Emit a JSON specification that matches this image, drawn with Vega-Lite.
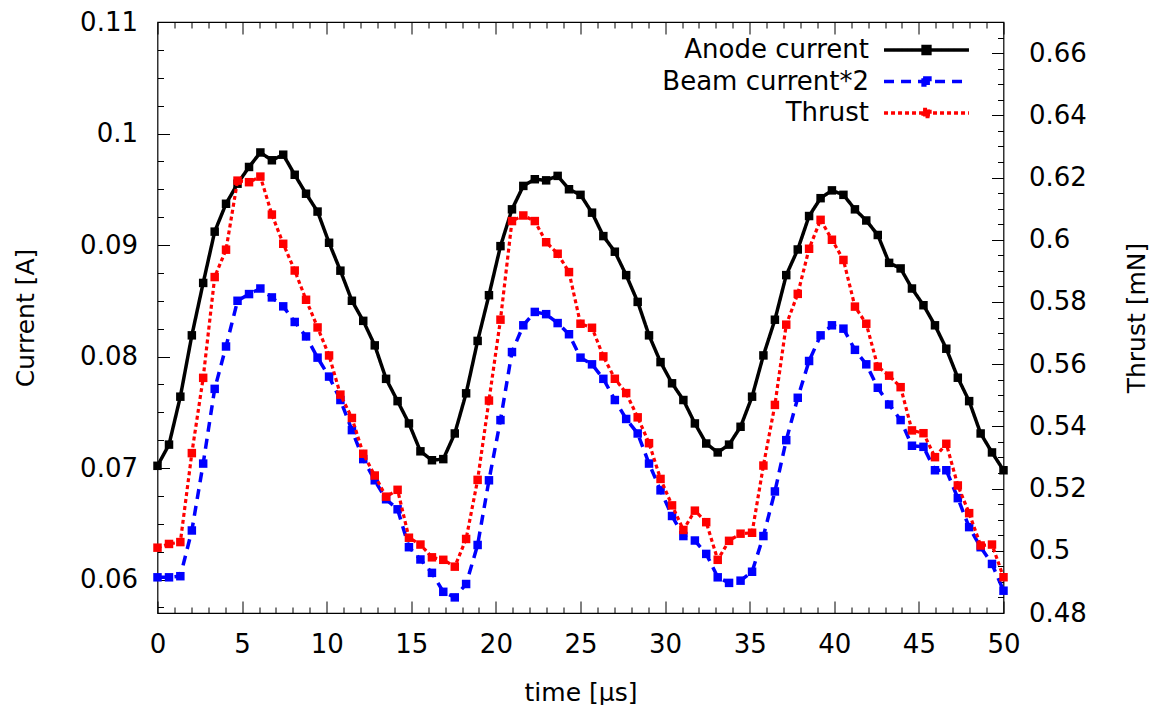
{
  "$schema": "https://vega.github.io/schema/vega-lite/v6.json",
  "width": 846,
  "height": 591,
  "padding": {"left": 12.5, "top": 9, "right": 0, "bottom": 0},
  "background": "white",
  "config": {
    "view": {"stroke": "#000000", "strokeWidth": 1.2},
    "axis": {
      "domain": false,
      "grid": false,
      "tickColor": "#000000",
      "tickWidth": 1,
      "labelColor": "#000000",
      "titleColor": "#000000",
      "labelFont": "DejaVu Sans",
      "titleFont": "DejaVu Sans",
      "labelFontSize": 26,
      "titleFontSize": 25,
      "titleFontWeight": "normal",
      "labelOverlap": false,
      "labelFlush": false
    },
    "legend": {"labelFont": "DejaVu Sans", "labelFontSize": 26, "labelColor": "#000000"}
  },
  "data": {
    "values": [
      {"t":0,"s":"Anode current","v":0.0702},{"t":0.68,"s":"Anode current","v":0.0721},{"t":1.35,"s":"Anode current","v":0.0764},{"t":2.03,"s":"Anode current","v":0.0819},{"t":2.70,"s":"Anode current","v":0.0866},{"t":3.38,"s":"Anode current","v":0.0912},{"t":4.05,"s":"Anode current","v":0.0937},{"t":4.73,"s":"Anode current","v":0.0955},{"t":5.41,"s":"Anode current","v":0.0970},{"t":6.08,"s":"Anode current","v":0.0983},{"t":6.76,"s":"Anode current","v":0.0976},{"t":7.43,"s":"Anode current","v":0.0981},{"t":8.11,"s":"Anode current","v":0.0963},{"t":8.78,"s":"Anode current","v":0.0946},{"t":9.46,"s":"Anode current","v":0.0930},{"t":10.14,"s":"Anode current","v":0.0902},{"t":10.81,"s":"Anode current","v":0.0877},{"t":11.49,"s":"Anode current","v":0.0850},{"t":12.16,"s":"Anode current","v":0.0832},{"t":12.84,"s":"Anode current","v":0.0810},{"t":13.51,"s":"Anode current","v":0.0780},{"t":14.19,"s":"Anode current","v":0.0760},{"t":14.86,"s":"Anode current","v":0.0740},{"t":15.54,"s":"Anode current","v":0.0715},{"t":16.22,"s":"Anode current","v":0.0707},{"t":16.89,"s":"Anode current","v":0.0708},{"t":17.57,"s":"Anode current","v":0.0731},{"t":18.24,"s":"Anode current","v":0.0767},{"t":18.92,"s":"Anode current","v":0.0814},{"t":19.59,"s":"Anode current","v":0.0855},{"t":20.27,"s":"Anode current","v":0.0899},{"t":20.95,"s":"Anode current","v":0.0932},{"t":21.62,"s":"Anode current","v":0.0953},{"t":22.30,"s":"Anode current","v":0.0959},{"t":22.97,"s":"Anode current","v":0.0958},{"t":23.65,"s":"Anode current","v":0.0962},{"t":24.32,"s":"Anode current","v":0.0950},{"t":25.00,"s":"Anode current","v":0.0945},{"t":25.68,"s":"Anode current","v":0.0929},{"t":26.35,"s":"Anode current","v":0.0908},{"t":27.03,"s":"Anode current","v":0.0894},{"t":27.70,"s":"Anode current","v":0.0873},{"t":28.38,"s":"Anode current","v":0.0849},{"t":29.05,"s":"Anode current","v":0.0819},{"t":29.73,"s":"Anode current","v":0.0795},{"t":30.41,"s":"Anode current","v":0.0776},{"t":31.08,"s":"Anode current","v":0.0761},{"t":31.76,"s":"Anode current","v":0.0740},{"t":32.43,"s":"Anode current","v":0.0722},{"t":33.11,"s":"Anode current","v":0.0714},{"t":33.78,"s":"Anode current","v":0.0721},{"t":34.46,"s":"Anode current","v":0.0737},{"t":35.14,"s":"Anode current","v":0.0764},{"t":35.81,"s":"Anode current","v":0.0801},{"t":36.49,"s":"Anode current","v":0.0833},{"t":37.16,"s":"Anode current","v":0.0873},{"t":37.84,"s":"Anode current","v":0.0896},{"t":38.51,"s":"Anode current","v":0.0926},{"t":39.19,"s":"Anode current","v":0.0942},{"t":39.86,"s":"Anode current","v":0.0949},{"t":40.54,"s":"Anode current","v":0.0945},{"t":41.22,"s":"Anode current","v":0.0932},{"t":41.89,"s":"Anode current","v":0.0922},{"t":42.57,"s":"Anode current","v":0.0909},{"t":43.24,"s":"Anode current","v":0.0884},{"t":43.92,"s":"Anode current","v":0.0879},{"t":44.59,"s":"Anode current","v":0.0861},{"t":45.27,"s":"Anode current","v":0.0846},{"t":45.95,"s":"Anode current","v":0.0828},{"t":46.62,"s":"Anode current","v":0.0807},{"t":47.30,"s":"Anode current","v":0.0781},{"t":47.97,"s":"Anode current","v":0.0760},{"t":48.65,"s":"Anode current","v":0.0731},{"t":49.32,"s":"Anode current","v":0.0714},{"t":50,"s":"Anode current","v":0.0698},
      {"t":0,"s":"Beam current*2","v":0.0602},{"t":0.68,"s":"Beam current*2","v":0.0602},{"t":1.35,"s":"Beam current*2","v":0.0603},{"t":2.03,"s":"Beam current*2","v":0.0644},{"t":2.70,"s":"Beam current*2","v":0.0704},{"t":3.38,"s":"Beam current*2","v":0.0771},{"t":4.05,"s":"Beam current*2","v":0.0809},{"t":4.73,"s":"Beam current*2","v":0.0850},{"t":5.41,"s":"Beam current*2","v":0.0856},{"t":6.08,"s":"Beam current*2","v":0.0861},{"t":6.76,"s":"Beam current*2","v":0.0853},{"t":7.43,"s":"Beam current*2","v":0.0845},{"t":8.11,"s":"Beam current*2","v":0.0831},{"t":8.78,"s":"Beam current*2","v":0.0818},{"t":9.46,"s":"Beam current*2","v":0.0799},{"t":10.14,"s":"Beam current*2","v":0.0782},{"t":10.81,"s":"Beam current*2","v":0.0761},{"t":11.49,"s":"Beam current*2","v":0.0734},{"t":12.16,"s":"Beam current*2","v":0.0708},{"t":12.84,"s":"Beam current*2","v":0.0689},{"t":13.51,"s":"Beam current*2","v":0.0672},{"t":14.19,"s":"Beam current*2","v":0.0663},{"t":14.86,"s":"Beam current*2","v":0.0629},{"t":15.54,"s":"Beam current*2","v":0.0618},{"t":16.22,"s":"Beam current*2","v":0.0606},{"t":16.89,"s":"Beam current*2","v":0.0589},{"t":17.57,"s":"Beam current*2","v":0.0584},{"t":18.24,"s":"Beam current*2","v":0.0596},{"t":18.92,"s":"Beam current*2","v":0.0631},{"t":19.59,"s":"Beam current*2","v":0.0689},{"t":20.27,"s":"Beam current*2","v":0.0743},{"t":20.95,"s":"Beam current*2","v":0.0804},{"t":21.62,"s":"Beam current*2","v":0.0828},{"t":22.30,"s":"Beam current*2","v":0.0840},{"t":22.97,"s":"Beam current*2","v":0.0838},{"t":23.65,"s":"Beam current*2","v":0.0830},{"t":24.32,"s":"Beam current*2","v":0.0820},{"t":25.00,"s":"Beam current*2","v":0.0799},{"t":25.68,"s":"Beam current*2","v":0.0793},{"t":26.35,"s":"Beam current*2","v":0.0780},{"t":27.03,"s":"Beam current*2","v":0.0761},{"t":27.70,"s":"Beam current*2","v":0.0744},{"t":28.38,"s":"Beam current*2","v":0.0731},{"t":29.05,"s":"Beam current*2","v":0.0704},{"t":29.73,"s":"Beam current*2","v":0.0680},{"t":30.41,"s":"Beam current*2","v":0.0657},{"t":31.08,"s":"Beam current*2","v":0.0639},{"t":31.76,"s":"Beam current*2","v":0.0635},{"t":32.43,"s":"Beam current*2","v":0.0623},{"t":33.11,"s":"Beam current*2","v":0.0602},{"t":33.78,"s":"Beam current*2","v":0.0597},{"t":34.46,"s":"Beam current*2","v":0.0599},{"t":35.14,"s":"Beam current*2","v":0.0607},{"t":35.81,"s":"Beam current*2","v":0.0639},{"t":36.49,"s":"Beam current*2","v":0.0679},{"t":37.16,"s":"Beam current*2","v":0.0725},{"t":37.84,"s":"Beam current*2","v":0.0763},{"t":38.51,"s":"Beam current*2","v":0.0796},{"t":39.19,"s":"Beam current*2","v":0.0819},{"t":39.86,"s":"Beam current*2","v":0.0828},{"t":40.54,"s":"Beam current*2","v":0.0825},{"t":41.22,"s":"Beam current*2","v":0.0806},{"t":41.89,"s":"Beam current*2","v":0.0793},{"t":42.57,"s":"Beam current*2","v":0.0772},{"t":43.24,"s":"Beam current*2","v":0.0757},{"t":43.92,"s":"Beam current*2","v":0.0743},{"t":44.59,"s":"Beam current*2","v":0.0720},{"t":45.27,"s":"Beam current*2","v":0.0719},{"t":45.95,"s":"Beam current*2","v":0.0698},{"t":46.62,"s":"Beam current*2","v":0.0698},{"t":47.30,"s":"Beam current*2","v":0.0673},{"t":47.97,"s":"Beam current*2","v":0.0647},{"t":48.65,"s":"Beam current*2","v":0.0629},{"t":49.32,"s":"Beam current*2","v":0.0614},{"t":50,"s":"Beam current*2","v":0.0590},
      {"t":0,"s":"Thrust","v":0.5010},{"t":0.68,"s":"Thrust","v":0.5022},{"t":1.35,"s":"Thrust","v":0.5028},{"t":2.03,"s":"Thrust","v":0.5314},{"t":2.70,"s":"Thrust","v":0.5556},{"t":3.38,"s":"Thrust","v":0.5880},{"t":4.05,"s":"Thrust","v":0.5968},{"t":4.73,"s":"Thrust","v":0.6190},{"t":5.41,"s":"Thrust","v":0.6185},{"t":6.08,"s":"Thrust","v":0.6203},{"t":6.76,"s":"Thrust","v":0.6081},{"t":7.43,"s":"Thrust","v":0.5987},{"t":8.11,"s":"Thrust","v":0.5901},{"t":8.78,"s":"Thrust","v":0.5807},{"t":9.46,"s":"Thrust","v":0.5718},{"t":10.14,"s":"Thrust","v":0.5628},{"t":10.81,"s":"Thrust","v":0.5502},{"t":11.49,"s":"Thrust","v":0.5427},{"t":12.16,"s":"Thrust","v":0.5312},{"t":12.84,"s":"Thrust","v":0.5242},{"t":13.51,"s":"Thrust","v":0.5174},{"t":14.19,"s":"Thrust","v":0.5196},{"t":14.86,"s":"Thrust","v":0.5042},{"t":15.54,"s":"Thrust","v":0.5020},{"t":16.22,"s":"Thrust","v":0.4979},{"t":16.89,"s":"Thrust","v":0.4971},{"t":17.57,"s":"Thrust","v":0.4949},{"t":18.24,"s":"Thrust","v":0.5038},{"t":18.92,"s":"Thrust","v":0.5228},{"t":19.59,"s":"Thrust","v":0.5483},{"t":20.27,"s":"Thrust","v":0.5743},{"t":20.95,"s":"Thrust","v":0.6060},{"t":21.62,"s":"Thrust","v":0.6078},{"t":22.30,"s":"Thrust","v":0.6060},{"t":22.97,"s":"Thrust","v":0.5992},{"t":23.65,"s":"Thrust","v":0.5955},{"t":24.32,"s":"Thrust","v":0.5896},{"t":25.00,"s":"Thrust","v":0.5730},{"t":25.68,"s":"Thrust","v":0.5717},{"t":26.35,"s":"Thrust","v":0.5625},{"t":27.03,"s":"Thrust","v":0.5553},{"t":27.70,"s":"Thrust","v":0.5507},{"t":28.38,"s":"Thrust","v":0.5429},{"t":29.05,"s":"Thrust","v":0.5346},{"t":29.73,"s":"Thrust","v":0.5231},{"t":30.41,"s":"Thrust","v":0.5146},{"t":31.08,"s":"Thrust","v":0.5067},{"t":31.76,"s":"Thrust","v":0.5129},{"t":32.43,"s":"Thrust","v":0.5092},{"t":33.11,"s":"Thrust","v":0.4971},{"t":33.78,"s":"Thrust","v":0.5032},{"t":34.46,"s":"Thrust","v":0.5055},{"t":35.14,"s":"Thrust","v":0.5058},{"t":35.81,"s":"Thrust","v":0.5274},{"t":36.49,"s":"Thrust","v":0.5469},{"t":37.16,"s":"Thrust","v":0.5727},{"t":37.84,"s":"Thrust","v":0.5826},{"t":38.51,"s":"Thrust","v":0.5971},{"t":39.19,"s":"Thrust","v":0.6064},{"t":39.86,"s":"Thrust","v":0.6000},{"t":40.54,"s":"Thrust","v":0.5935},{"t":41.22,"s":"Thrust","v":0.5785},{"t":41.89,"s":"Thrust","v":0.5730},{"t":42.57,"s":"Thrust","v":0.5592},{"t":43.24,"s":"Thrust","v":0.5563},{"t":43.92,"s":"Thrust","v":0.5526},{"t":44.59,"s":"Thrust","v":0.5387},{"t":45.27,"s":"Thrust","v":0.5378},{"t":45.95,"s":"Thrust","v":0.5301},{"t":46.62,"s":"Thrust","v":0.5344},{"t":47.30,"s":"Thrust","v":0.5210},{"t":47.97,"s":"Thrust","v":0.5121},{"t":48.65,"s":"Thrust","v":0.5017},{"t":49.32,"s":"Thrust","v":0.5020},{"t":50,"s":"Thrust","v":0.4915}
    ]
  },
  "layer": [
    {
      "transform": [{"filter": "datum.s !== 'Thrust'"}],
      "mark": {"type": "line", "strokeWidth": 3.5, "strokeCap": "butt"},
      "encoding": {
        "x": {
          "field": "t", "type": "quantitative",
          "scale": {"domain": [0, 50], "nice": false, "zero": false},
          "axis": {
            "orient": "bottom", "title": "time [μs]",
            "values": [0,5,10,15,20,25,30,35,40,45,50],
            "format": "d", "tickSize": -12, "labelPadding": 30, "titlePadding": 23
          }
        },
        "y": {
          "field": "v", "type": "quantitative",
          "scale": {"domain": [0.057, 0.11], "nice": false, "zero": false},
          "axis": {
            "orient": "left", "title": "Current [A]",
            "values": [0.06,0.07,0.08,0.09,0.1,0.11],
            "format": ".2~f", "tickSize": -12, "labelPadding": 32, "titlePadding": 41.5
          }
        },
        "color": {
          "field": "s", "type": "nominal",
          "scale": {"domain": ["Anode current", "Beam current*2", "Thrust"], "range": ["#000000", "#0000ff", "#ff0000"]},
          "legend": {
            "title": null, "orient": "none", "legendX": 751.5, "legendY": 10.5, "padding": 0,
            "symbolType": "M-2.74,0H2.74M-0.22,-0.22H0.22V0.22H-0.22Z",
            "symbolSize": 961, "symbolStrokeWidth": 3.5,
            "labelAlign": "right", "labelOffset": -75, "labelLimit": 400, "rowPadding": 0.5,
            "encode": {"symbols": {"update": {"fill": {"scale": "color", "field": "value"}, "opacity": {"value": 1}}}}
          }
        },
        "strokeDash": {
          "field": "s", "type": "nominal",
          "scale": {"domain": ["Anode current", "Beam current*2", "Thrust"], "range": [[1, 0], [10, 7], [4, 3]]},
          "legend": {
            "title": null, "orient": "none", "legendX": 751.5, "legendY": 10.5, "padding": 0,
            "symbolType": "M-2.74,0H2.74M-0.22,-0.22H0.22V0.22H-0.22Z",
            "symbolSize": 961, "symbolStrokeWidth": 3.5,
            "labelAlign": "right", "labelOffset": -75, "labelLimit": 400, "rowPadding": 0.5,
            "encode": {"symbols": {"update": {"fill": {"scale": "color", "field": "value"}, "opacity": {"value": 1}}}}
          }
        }
      }
    },
    {
      "transform": [{"filter": "datum.s !== 'Thrust'"}],
      "mark": {"type": "point", "shape": "square", "size": 72, "filled": true, "opacity": 1},
      "encoding": {
        "x": {
          "field": "t", "type": "quantitative",
          "scale": {"domain": [0, 50], "nice": false, "zero": false},
          "axis": {
            "orient": "bottom", "title": null, "labels": false,
            "values": [1,2,3,4,6,7,8,9,11,12,13,14,16,17,18,19,21,22,23,24,26,27,28,29,31,32,33,34,36,37,38,39,41,42,43,44,46,47,48,49],
            "tickSize": -6
          }
        },
        "y": {
          "field": "v", "type": "quantitative",
          "scale": {"domain": [0.057, 0.11], "nice": false, "zero": false},
          "axis": {
            "orient": "left", "title": null, "labels": false,
            "values": [0.0575,0.0625,0.065,0.0675,0.0725,0.075,0.0775,0.0825,0.085,0.0875,0.0925,0.095,0.0975,0.1025,0.105,0.1075],
            "tickSize": -6
          }
        },
        "color": {"field": "s", "type": "nominal"}
      }
    },
    {
      "transform": [{"filter": "datum.s === 'Thrust'"}],
      "mark": {"type": "line", "strokeWidth": 3.2, "strokeCap": "butt"},
      "encoding": {
        "x": {
          "field": "t", "type": "quantitative",
          "scale": {"domain": [0, 50], "nice": false, "zero": false},
          "axis": {
            "orient": "top", "title": null, "labels": false,
            "values": [0,5,10,15,20,25,30,35,40,45,50],
            "tickSize": -12
          }
        },
        "y": {
          "field": "v", "type": "quantitative",
          "scale": {"domain": [0.48, 0.67], "nice": false, "zero": false},
          "axis": {
            "orient": "right", "title": "Thrust [mN]", "titleAngle": 270, "titleBaseline": "top",
            "values": [0.48,0.5,0.52,0.54,0.56,0.58,0.6,0.62,0.64,0.66],
            "format": ".2~f", "tickSize": -12, "labelPadding": 37, "titlePadding": 38
          }
        },
        "color": {"field": "s", "type": "nominal"},
        "strokeDash": {"field": "s", "type": "nominal"}
      }
    },
    {
      "transform": [{"filter": "datum.s === 'Thrust'"}],
      "mark": {"type": "point", "shape": "square", "size": 72, "filled": true, "opacity": 1},
      "encoding": {
        "x": {
          "field": "t", "type": "quantitative",
          "scale": {"domain": [0, 50], "nice": false, "zero": false},
          "axis": {
            "orient": "top", "title": null, "labels": false,
            "values": [1,2,3,4,6,7,8,9,11,12,13,14,16,17,18,19,21,22,23,24,26,27,28,29,31,32,33,34,36,37,38,39,41,42,43,44,46,47,48,49],
            "tickSize": -6
          }
        },
        "y": {
          "field": "v", "type": "quantitative",
          "scale": {"domain": [0.48, 0.67], "nice": false, "zero": false},
          "axis": {
            "orient": "right", "title": null, "labels": false,
            "values": [0.485,0.49,0.495,0.505,0.51,0.515,0.525,0.53,0.535,0.545,0.55,0.555,0.565,0.57,0.575,0.585,0.59,0.595,0.605,0.61,0.615,0.625,0.63,0.635,0.645,0.65,0.655,0.665],
            "tickSize": -6
          }
        },
        "color": {"field": "s", "type": "nominal"}
      }
    }
  ],
  "resolve": {"scale": {"y": "independent"}, "axis": {"x": "independent", "y": "independent"}}
}
